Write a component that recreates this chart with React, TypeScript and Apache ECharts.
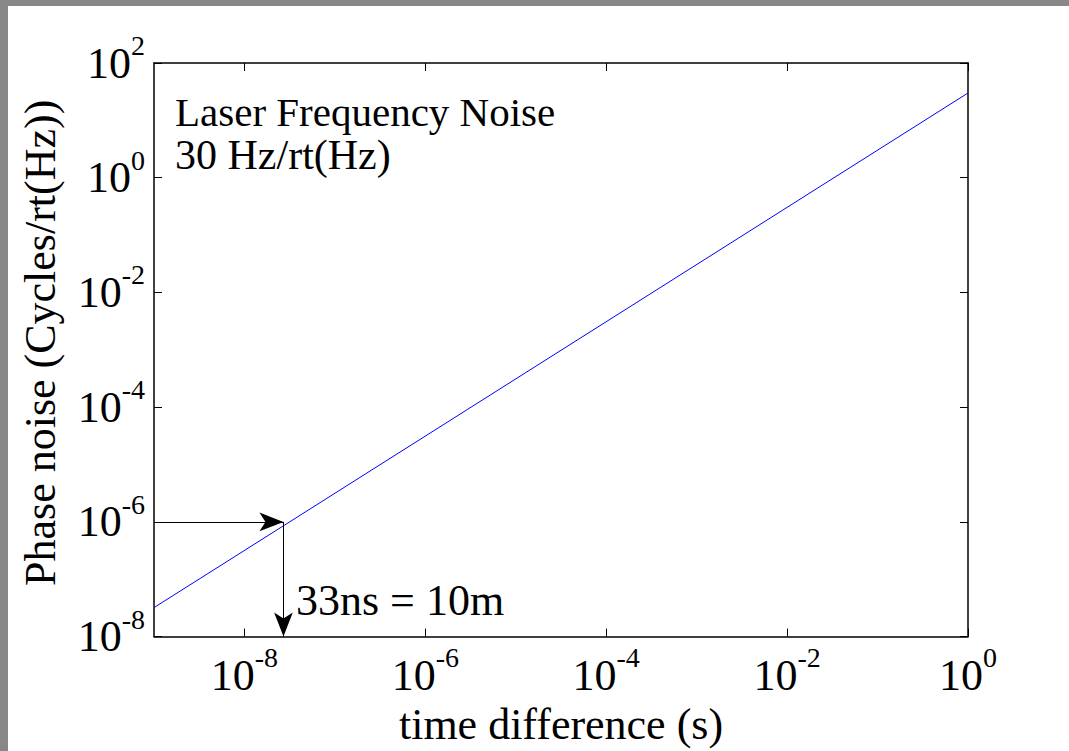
import React, { useEffect, useRef } from "react";
import * as echarts from "echarts";

// Data (log-log straight line)
const timeValues: number[] = [1e-9, 1]; // seconds
const noiseValues: number[] = [3.2e-8, 30]; // cycles/rt(Hz)

// Axis tick exponents
const xTickExps: number[] = [-8, -6, -4, -2, 0];
const yTickExps: number[] = [-8, -6, -4, -2, 0, 2];

// Annotation (arrows) values
const arrowTime = 2.7e-8;
const arrowNoise = 1e-6;
const arrowFloor = 1e-8;
const xMinExp = -9;

const titleLines: string[] = ["Laser Frequency Noise", "30 Hz/rt(Hz)"];
const annotationText = "33ns = 10m";

const FONT = "'Liberation Serif', 'Times New Roman', serif";

export default function App() {
  const ref = useRef<HTMLDivElement>(null);

  useEffect(() => {
    if (!ref.current) return;
    const chart = echarts.init(ref.current, undefined, { renderer: "svg" });
    const lg = (v: number) => Math.log10(v);
    const lineData = timeValues.map((t, i) => [lg(t), lg(noiseValues[i])]);

    const richLabel = {
      b: { fontSize: 44, fontFamily: FONT, color: "#000", lineHeight: 63 },
      s: { fontSize: 28, fontFamily: FONT, color: "#000", lineHeight: 30, verticalAlign: "top" },
    };
    const fmt = (v: number) => `{b|10}{s|${Math.round(v)}}`;

    const option: any = {
      animation: false,
      backgroundColor: "#ffffff",
      grid: { left: 154, right: 101, top: 63, bottom: 110, containLabel: false },
      xAxis: [
        {
          type: "value",
          min: -9,
          max: 0,
          position: "bottom",
          axisLine: { show: true, onZero: false, lineStyle: { color: "#000", width: 1.5 } },
          axisTick: { show: true, inside: true, length: 8, customValues: xTickExps, lineStyle: { color: "#000" } },
          axisLabel: { show: true, customValues: xTickExps, formatter: fmt, rich: richLabel, margin: 7 },
          splitLine: { show: false },
          name: "time difference (s)",
          nameLocation: "middle",
          nameGap: 56,
          nameTextStyle: { fontSize: 44, fontFamily: FONT, color: "#000" },
        },
        {
          type: "value",
          min: -9,
          max: 0,
          position: "top",
          axisLine: { show: true, onZero: false, lineStyle: { color: "#000", width: 1.5 } },
          axisTick: { show: true, inside: true, length: 8, customValues: xTickExps, lineStyle: { color: "#000" } },
          axisLabel: { show: false },
          splitLine: { show: false },
        },
      ],
      yAxis: [
        {
          type: "value",
          min: -8,
          max: 2,
          interval: 2,
          position: "left",
          axisLine: { show: true, onZero: false, lineStyle: { color: "#000", width: 1.5 } },
          axisTick: { show: true, inside: true, length: 8, lineStyle: { color: "#000" } },
          axisLabel: { show: true, formatter: fmt, rich: richLabel, margin: 9 },
          splitLine: { show: false },
          name: "Phase noise (Cycles/rt(Hz))",
          nameLocation: "middle",
          nameGap: 92,
          nameTextStyle: { fontSize: 44, fontFamily: FONT, color: "#000", padding: [0, 0, 0, 14] },
        },
        {
          type: "value",
          min: -8,
          max: 2,
          interval: 2,
          position: "right",
          axisLine: { show: true, onZero: false, lineStyle: { color: "#000", width: 1.5 } },
          axisTick: { show: true, inside: true, length: 8, lineStyle: { color: "#000" } },
          axisLabel: { show: false },
          splitLine: { show: false },
        },
      ],
      series: [
        {
          type: "line",
          data: lineData,
          showSymbol: false,
          symbol: "none",
          lineStyle: { color: "#0000ff", width: 1 },
          xAxisIndex: 0,
          yAxisIndex: 0,
          z: 3,
          markLine: {
            silent: true,
            symbol: ["none", "arrow"],
            symbolSize: [10, 18],
            label: { show: false },
            lineStyle: { color: "#000", width: 1, type: "solid" },
            emphasis: { disabled: true },
            data: [
              [
                { coord: [xMinExp, lg(arrowNoise)], symbol: "none" },
                { coord: [lg(arrowTime), lg(arrowNoise)], symbol: "arrow", symbolSize: [14, 24] },
              ],
              [
                { coord: [lg(arrowTime), lg(arrowNoise)], symbol: "none" },
                { coord: [lg(arrowTime), lg(arrowFloor)], symbol: "arrow", symbolSize: [14, 24] },
              ],
            ],
          },
        },
      ],
      graphic: [
        { type: "rect", shape: { x: 0, y: 0, width: 1069, height: 6 }, style: { fill: "#878787" }, silent: true },
        { type: "rect", shape: { x: 0, y: 0, width: 8, height: 751 }, style: { fill: "#878787" }, silent: true },
        {
          type: "text",
          left: 175,
          top: 91,
          style: { text: titleLines[0], fontSize: 41, fontFamily: FONT, fill: "#000" },
        },
        {
          type: "text",
          left: 175,
          top: 134,
          style: { text: titleLines[1], fontSize: 42, fontFamily: FONT, fill: "#000" },
        },
        {
          type: "text",
          left: 296,
          top: 578,
          style: { text: annotationText, fontSize: 44, fontFamily: FONT, fill: "#000" },
        },
      ],
    };

    chart.setOption(option);
    return () => chart.dispose();
  }, []);

  return (
    <div
      ref={ref}
      style={{ position: "absolute", left: 0, top: 0, width: 1069, height: 751 }}
    />
  );
}
